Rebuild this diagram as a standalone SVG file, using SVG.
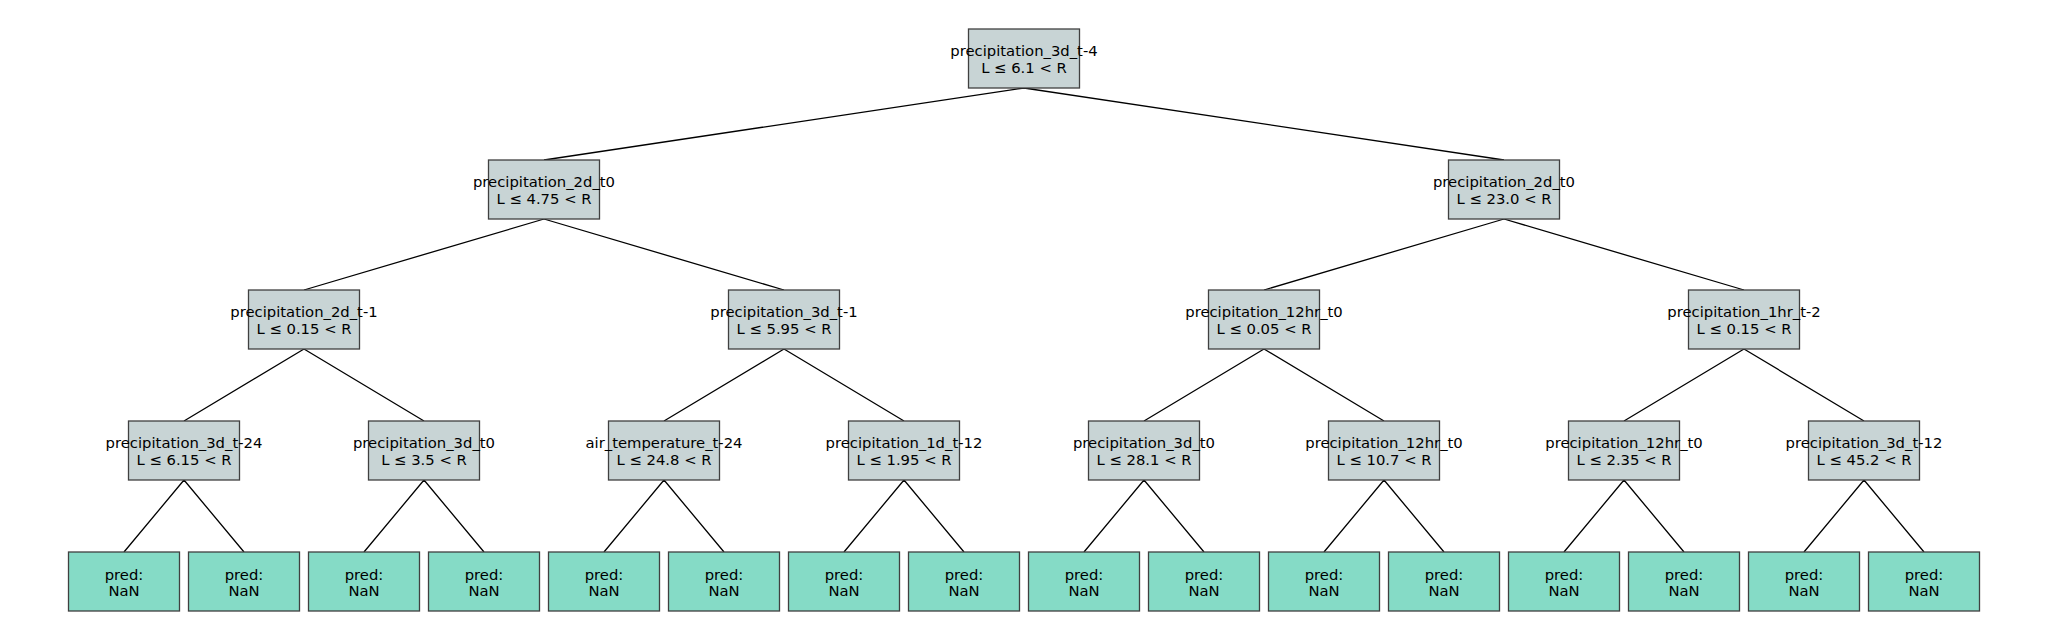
<svg xmlns="http://www.w3.org/2000/svg" width="2048" height="640" viewBox="0 0 2048 640">
<style>
.n{fill:#c8d4d5;stroke:#404040;stroke-width:1.3}
.l{fill:#85dbc6;stroke:#404040;stroke-width:1.3}
text{font-family:"DejaVu Sans",sans-serif;font-size:14.8px;fill:#000;text-anchor:middle}
.e{stroke:#000;stroke-width:1.3;fill:none}
</style>
<rect width="2048" height="640" fill="#fff"/>
<g id="edges">
<path class="e" d="M1024 88L544 160M1024 88L1504 160"/>
<path class="e" d="M544 219L304 290M544 219L784 290M1504 219L1264 290M1504 219L1744 290"/>
<path class="e" d="M304 349L184 421M304 349L424 421M784 349L664 421M784 349L904 421M1264 349L1144 421M1264 349L1384 421M1744 349L1624 421M1744 349L1864 421"/>
<path class="e" d="M184 480L124 552M184 480L244 552M424 480L364 552M424 480L484 552M664 480L604 552M664 480L724 552M904 480L844 552M904 480L964 552M1144 480L1084 552M1144 480L1204 552M1384 480L1324 552M1384 480L1444 552M1624 480L1564 552M1624 480L1684 552M1864 480L1804 552M1864 480L1924 552"/>
</g>
<g id="n0"><rect class="n" x="968.5" y="29" width="111" height="59"/><text x="1024" y="56">precipitation_3d_t-4</text><text x="1024" y="72.5">L ≤ 6.1 &lt; R</text></g>
<g id="n1"><rect class="n" x="488.5" y="160" width="111" height="59"/><text x="544" y="187">precipitation_2d_t0</text><text x="544" y="203.5">L ≤ 4.75 &lt; R</text></g>
<g id="n2"><rect class="n" x="1448.5" y="160" width="111" height="59"/><text x="1504" y="187">precipitation_2d_t0</text><text x="1504" y="203.5">L ≤ 23.0 &lt; R</text></g>
<g id="n3"><rect class="n" x="248.5" y="290" width="111" height="59"/><text x="304" y="317">precipitation_2d_t-1</text><text x="304" y="333.5">L ≤ 0.15 &lt; R</text></g>
<g id="n4"><rect class="n" x="728.5" y="290" width="111" height="59"/><text x="784" y="317">precipitation_3d_t-1</text><text x="784" y="333.5">L ≤ 5.95 &lt; R</text></g>
<g id="n5"><rect class="n" x="1208.5" y="290" width="111" height="59"/><text x="1264" y="317">precipitation_12hr_t0</text><text x="1264" y="333.5">L ≤ 0.05 &lt; R</text></g>
<g id="n6"><rect class="n" x="1688.5" y="290" width="111" height="59"/><text x="1744" y="317">precipitation_1hr_t-2</text><text x="1744" y="333.5">L ≤ 0.15 &lt; R</text></g>
<g id="n7"><rect class="n" x="128.5" y="421" width="111" height="59"/><text x="184" y="448">precipitation_3d_t-24</text><text x="184" y="464.5">L ≤ 6.15 &lt; R</text></g>
<g id="n8"><rect class="n" x="368.5" y="421" width="111" height="59"/><text x="424" y="448">precipitation_3d_t0</text><text x="424" y="464.5">L ≤ 3.5 &lt; R</text></g>
<g id="n9"><rect class="n" x="608.5" y="421" width="111" height="59"/><text x="664" y="448">air_temperature_t-24</text><text x="664" y="464.5">L ≤ 24.8 &lt; R</text></g>
<g id="n10"><rect class="n" x="848.5" y="421" width="111" height="59"/><text x="904" y="448">precipitation_1d_t-12</text><text x="904" y="464.5">L ≤ 1.95 &lt; R</text></g>
<g id="n11"><rect class="n" x="1088.5" y="421" width="111" height="59"/><text x="1144" y="448">precipitation_3d_t0</text><text x="1144" y="464.5">L ≤ 28.1 &lt; R</text></g>
<g id="n12"><rect class="n" x="1328.5" y="421" width="111" height="59"/><text x="1384" y="448">precipitation_12hr_t0</text><text x="1384" y="464.5">L ≤ 10.7 &lt; R</text></g>
<g id="n13"><rect class="n" x="1568.5" y="421" width="111" height="59"/><text x="1624" y="448">precipitation_12hr_t0</text><text x="1624" y="464.5">L ≤ 2.35 &lt; R</text></g>
<g id="n14"><rect class="n" x="1808.5" y="421" width="111" height="59"/><text x="1864" y="448">precipitation_3d_t-12</text><text x="1864" y="464.5">L ≤ 45.2 &lt; R</text></g>
<g id="leaf0"><rect class="l" x="68.5" y="552" width="111" height="59"/><text x="124" y="580">pred:</text><text x="124" y="596">NaN</text></g>
<g id="leaf1"><rect class="l" x="188.5" y="552" width="111" height="59"/><text x="244" y="580">pred:</text><text x="244" y="596">NaN</text></g>
<g id="leaf2"><rect class="l" x="308.5" y="552" width="111" height="59"/><text x="364" y="580">pred:</text><text x="364" y="596">NaN</text></g>
<g id="leaf3"><rect class="l" x="428.5" y="552" width="111" height="59"/><text x="484" y="580">pred:</text><text x="484" y="596">NaN</text></g>
<g id="leaf4"><rect class="l" x="548.5" y="552" width="111" height="59"/><text x="604" y="580">pred:</text><text x="604" y="596">NaN</text></g>
<g id="leaf5"><rect class="l" x="668.5" y="552" width="111" height="59"/><text x="724" y="580">pred:</text><text x="724" y="596">NaN</text></g>
<g id="leaf6"><rect class="l" x="788.5" y="552" width="111" height="59"/><text x="844" y="580">pred:</text><text x="844" y="596">NaN</text></g>
<g id="leaf7"><rect class="l" x="908.5" y="552" width="111" height="59"/><text x="964" y="580">pred:</text><text x="964" y="596">NaN</text></g>
<g id="leaf8"><rect class="l" x="1028.5" y="552" width="111" height="59"/><text x="1084" y="580">pred:</text><text x="1084" y="596">NaN</text></g>
<g id="leaf9"><rect class="l" x="1148.5" y="552" width="111" height="59"/><text x="1204" y="580">pred:</text><text x="1204" y="596">NaN</text></g>
<g id="leaf10"><rect class="l" x="1268.5" y="552" width="111" height="59"/><text x="1324" y="580">pred:</text><text x="1324" y="596">NaN</text></g>
<g id="leaf11"><rect class="l" x="1388.5" y="552" width="111" height="59"/><text x="1444" y="580">pred:</text><text x="1444" y="596">NaN</text></g>
<g id="leaf12"><rect class="l" x="1508.5" y="552" width="111" height="59"/><text x="1564" y="580">pred:</text><text x="1564" y="596">NaN</text></g>
<g id="leaf13"><rect class="l" x="1628.5" y="552" width="111" height="59"/><text x="1684" y="580">pred:</text><text x="1684" y="596">NaN</text></g>
<g id="leaf14"><rect class="l" x="1748.5" y="552" width="111" height="59"/><text x="1804" y="580">pred:</text><text x="1804" y="596">NaN</text></g>
<g id="leaf15"><rect class="l" x="1868.5" y="552" width="111" height="59"/><text x="1924" y="580">pred:</text><text x="1924" y="596">NaN</text></g>
</svg>
